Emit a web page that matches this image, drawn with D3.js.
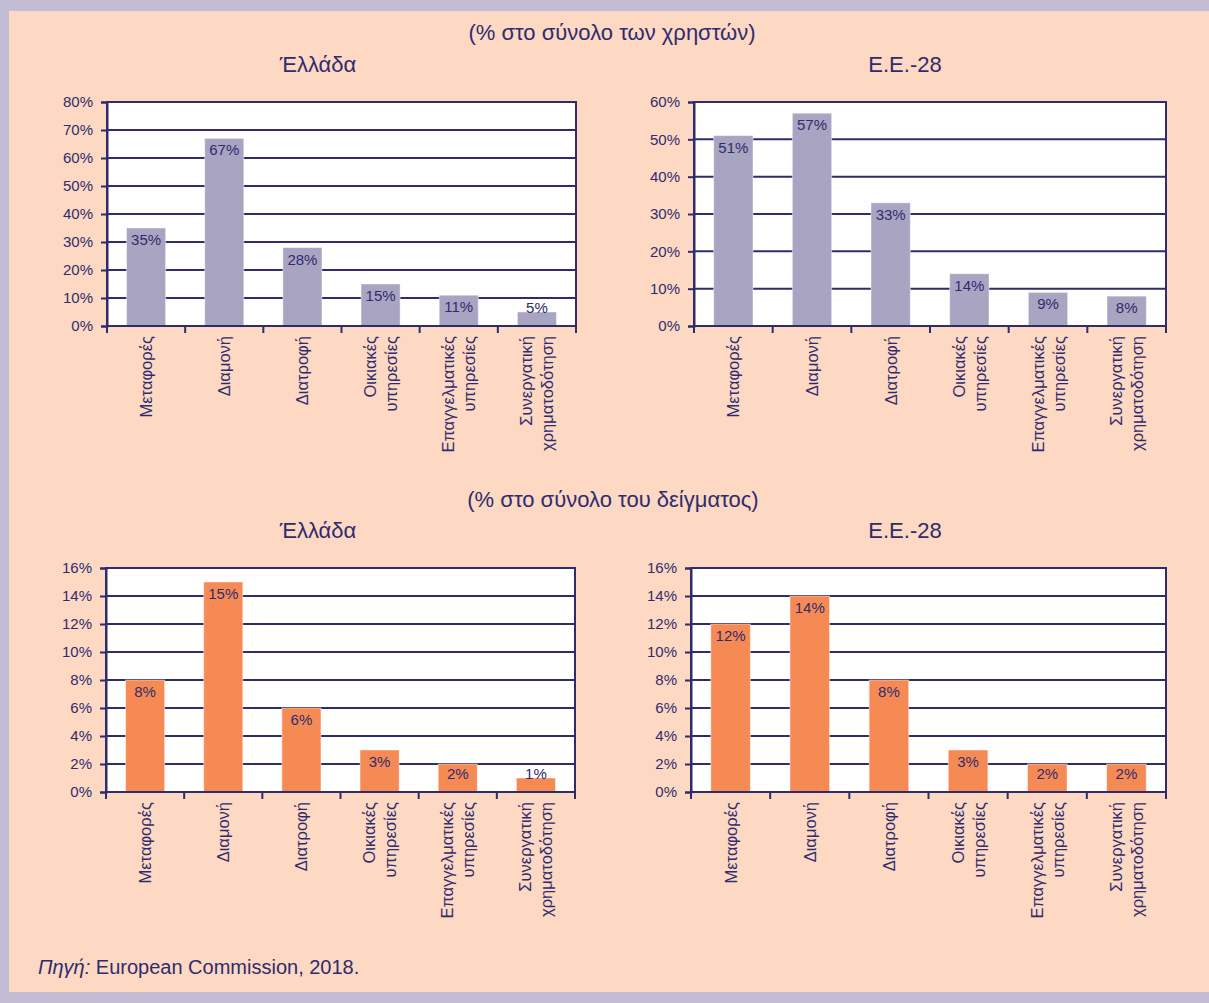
<!DOCTYPE html>
<html>
<head>
<meta charset="utf-8">
<script src="https://cdn.jsdelivr.net/npm/d3@7"></script>
<style>
  body { margin: 0; background: #fdd8c2; }
  text { font-family: "Liberation Sans", Arial, sans-serif; fill: #2f2c6e; }
</style>
</head>
<body>
<div id="chart"></div>
<script>
// categories (two-line labels are split with "|")
const categories = ["Μεταφορές", "Διαμονή", "Διατροφή", "Οικιακές|υπηρεσίες", "Επαγγελματικές|υπηρεσίες", "Συνεργατική|χρηματοδότηση"];

// % of users
const usersGreece = [35, 67, 28, 15, 11, 5];
const usersEU = [51, 57, 33, 14, 9, 8];
// % of sample
const sampleGreece = [8, 15, 6, 3, 2, 1];
const sampleEU = [12, 14, 8, 3, 2, 2];

const ticksUsersGreece = [0, 10, 20, 30, 40, 50, 60, 70, 80];
const ticksUsersEU = [0, 10, 20, 30, 40, 50, 60];
const ticksSample = [0, 2, 4, 6, 8, 10, 12, 14, 16];

const navy = "#2f2c6e";

const svg = d3.select("#chart")
  .append("svg")
  .attr("width", 1209)
  .attr("height", 1003);

// frame
svg.append("rect").attr("width", 1209).attr("height", 1003).attr("fill", "#c2bdd5");
svg.append("rect").attr("x", 9).attr("y", 11).attr("width", 1200).attr("height", 981).attr("fill", "#fdd8c2");

// section titles
svg.append("text").attr("x", 612).attr("y", 40).attr("text-anchor", "middle")
  .style("font-size", "22px").text("(% στο σύνολο των χρηστών)");
svg.append("text").attr("x", 613).attr("y", 507).attr("text-anchor", "middle")
  .style("font-size", "22px").text("(% στο σύνολο του δείγματος)");

/**
 * Draw one bar panel
 */
function drawPanel(p) {
  const x = d3.scaleBand().domain(categories).range([p.x0, p.x1]).paddingInner(0.5).paddingOuter(0.25);
  const y = d3.scaleLinear().domain([0, p.max]).range([p.y0, p.y1]);
  const g = svg.append("g");

  // title
  g.append("text").attr("x", p.titleX).attr("y", p.titleY).attr("text-anchor", "middle")
    .style("font-size", "22px").text(p.title);

  // plot background
  g.append("rect").attr("x", p.x0).attr("y", p.y1)
    .attr("width", p.x1 - p.x0).attr("height", p.y0 - p.y1).attr("fill", "#fff");

  // grid lines
  g.selectAll(".grid").data(p.ticks).join("line")
    .attr("x1", p.x0).attr("x2", p.x1)
    .attr("y1", (d) => y(d)).attr("y2", (d) => y(d))
    .attr("stroke", navy).attr("stroke-width", 2);

  // bars
  g.selectAll(".bar").data(p.values).join("rect")
    .attr("x", (d, i) => x(categories[i]))
    .attr("y", (d) => y(d))
    .attr("width", x.bandwidth())
    .attr("height", (d) => p.y0 - y(d))
    .attr("fill", p.color)
    .attr("stroke", "rgba(255,255,255,0.45)").attr("stroke-width", 1);

  // frame lines
  g.append("rect").attr("x", p.x0).attr("y", p.y1)
    .attr("width", p.x1 - p.x0).attr("height", p.y0 - p.y1)
    .attr("fill", "none").attr("stroke", navy).attr("stroke-width", 2);

  // y axis
  const yAxis = d3.axisLeft(y).tickValues(p.ticks).tickSize(6).tickPadding(8)
    .tickFormat((d) => d + "%");
  const ya = g.append("g").attr("transform", "translate(" + p.x0 + ",0)").call(yAxis);
  ya.select(".domain").attr("stroke", navy).attr("stroke-width", 2);
  ya.selectAll(".tick line").attr("stroke", navy).attr("stroke-width", 2);
  ya.selectAll(".tick text").style("font-size", "15px").attr("fill", navy)
    .style("font-family", "'Liberation Sans', Arial, sans-serif");

  // x ticks at band boundaries
  const step = x.step();
  const bounds = d3.range(categories.length + 1).map((i) => p.x0 + i * step);
  g.selectAll(".xt").data(bounds).join("line")
    .attr("x1", (d) => d).attr("x2", (d) => d)
    .attr("y1", p.y0).attr("y2", p.y0 + 7)
    .attr("stroke", navy).attr("stroke-width", 2);

  // value labels
  g.selectAll(".val").data(p.values).join("text")
    .attr("x", (d, i) => x(categories[i]) + x.bandwidth() / 2)
    .attr("y", (d) => Math.min(y(d) + 17, p.y0 - 13))
    .attr("text-anchor", "middle")
    .style("font-size", "15px")
    .text((d) => d + "%");

  // category labels, rotated
  categories.forEach((c, i) => {
    const lines = c.split("|");
    const cx = x(c) + x.bandwidth() / 2;
    lines.forEach((ln, j) => {
      const off = (j - (lines.length - 1) / 2) * 21 + 6;
      g.append("text")
        .attr("transform", "translate(" + (cx + off) + "," + (p.y0 + 10) + ") rotate(-90)")
        .attr("text-anchor", "end")
        .style("font-size", "16.5px")
        .text(ln);
    });
  });
}

drawPanel({ title: "Έλλάδα", titleX: 318, titleY: 72, values: usersGreece, ticks: ticksUsersGreece,
  max: 80, x0: 107, x1: 576, y0: 326, y1: 102, color: "#a9a4c2" });
drawPanel({ title: "Ε.Ε.-28", titleX: 905, titleY: 72, values: usersEU, ticks: ticksUsersEU,
  max: 60, x0: 694, x1: 1166, y0: 326, y1: 102, color: "#a9a4c2" });
drawPanel({ title: "Έλλάδα", titleX: 318, titleY: 538, values: sampleGreece, ticks: ticksSample,
  max: 16, x0: 106, x1: 575, y0: 792, y1: 568, color: "#f58a55" });
drawPanel({ title: "Ε.Ε.-28", titleX: 905, titleY: 538, values: sampleEU, ticks: ticksSample,
  max: 16, x0: 691, x1: 1166, y0: 792, y1: 568, color: "#f58a55" });

// source
const src = svg.append("text").attr("x", 38).attr("y", 974).style("font-size", "20px");
src.append("tspan").style("font-style", "italic").text("Πηγή:");
src.append("tspan").text(" European Commission, 2018.");
</script>
</body>
</html>
